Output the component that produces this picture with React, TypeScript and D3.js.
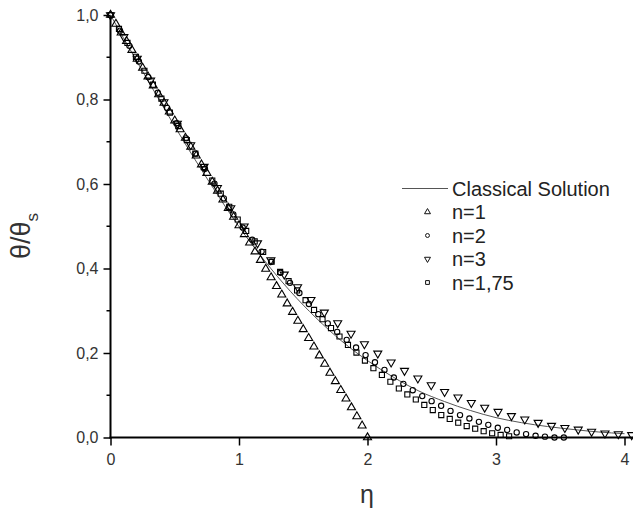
import React, { useEffect, useRef } from "react";
import * as d3 from "d3";

type Pt = [number, number];

// classical solution [eta, theta/theta_s]
const classical: Pt[] = [
  [0, 1.0], [0.2, 0.893], [0.4, 0.788], [0.6, 0.686], [0.8, 0.59], [1.0, 0.499],
  [1.2, 0.418], [1.4, 0.346], [1.6, 0.283], [1.8, 0.228], [2.0, 0.182], [2.2, 0.143],
  [2.4, 0.11], [2.6, 0.085], [2.8, 0.064], [3.0, 0.047], [3.2, 0.035], [3.4, 0.026],
  [3.6, 0.019], [3.8, 0.013], [4.0, 0.009],
];

const n1: Pt[] = [
  [0, 1.0], [0.042, 0.979], [0.083, 0.958], [0.125, 0.938], [0.167, 0.917], [0.208, 0.896],
  [0.25, 0.875], [0.292, 0.854], [0.333, 0.833], [0.375, 0.812], [0.417, 0.792], [0.458, 0.771],
  [0.5, 0.75], [0.542, 0.729], [0.583, 0.709], [0.625, 0.688], [0.667, 0.667], [0.708, 0.646],
  [0.75, 0.626], [0.792, 0.605], [0.833, 0.584], [0.875, 0.563], [0.917, 0.543], [0.958, 0.522],
  [1.0, 0.502], [1.042, 0.481], [1.083, 0.461], [1.125, 0.44], [1.167, 0.42], [1.208, 0.399],
  [1.25, 0.379], [1.292, 0.358], [1.333, 0.338], [1.375, 0.317], [1.417, 0.297], [1.458, 0.276],
  [1.5, 0.256], [1.542, 0.235], [1.583, 0.215], [1.625, 0.194], [1.667, 0.174], [1.708, 0.153],
  [1.75, 0.133], [1.792, 0.112], [1.833, 0.092], [1.875, 0.071], [1.917, 0.05], [1.958, 0.028],
  [2.0, 0.0],
];

const n2: Pt[] = [
  [0, 1.0], [0.074, 0.963], [0.147, 0.927], [0.221, 0.89], [0.294, 0.853], [0.368, 0.816],
  [0.441, 0.78], [0.515, 0.744], [0.588, 0.708], [0.662, 0.672], [0.735, 0.636], [0.809, 0.601],
  [0.882, 0.566], [0.956, 0.528], [1.029, 0.497], [1.103, 0.468], [1.176, 0.44], [1.25, 0.416],
  [1.323, 0.39], [1.397, 0.366], [1.47, 0.342], [1.544, 0.316], [1.617, 0.292], [1.691, 0.27],
  [1.764, 0.25], [1.838, 0.231], [1.911, 0.213], [1.985, 0.195], [2.058, 0.178], [2.132, 0.16],
  [2.205, 0.142], [2.279, 0.127], [2.352, 0.112], [2.426, 0.098], [2.499, 0.086], [2.573, 0.075],
  [2.646, 0.063], [2.72, 0.053], [2.793, 0.045], [2.867, 0.037], [2.94, 0.03], [3.014, 0.023],
  [3.087, 0.018], [3.161, 0.012], [3.234, 0.008], [3.308, 0.004], [3.381, 0.002], [3.455, 0.0],
  [3.528, 0.0],
];

const n3: Pt[] = [
  [0, 1.0], [0.104, 0.948], [0.208, 0.897], [0.312, 0.845], [0.416, 0.794], [0.52, 0.743],
  [0.624, 0.692], [0.728, 0.641], [0.832, 0.591], [0.936, 0.543], [1.04, 0.5], [1.144, 0.46],
  [1.248, 0.42], [1.352, 0.386], [1.456, 0.356], [1.56, 0.326], [1.664, 0.296], [1.768, 0.271],
  [1.872, 0.246], [1.976, 0.221], [2.08, 0.199], [2.184, 0.178], [2.288, 0.158], [2.392, 0.14],
  [2.496, 0.124], [2.6, 0.108], [2.704, 0.095], [2.808, 0.082], [2.912, 0.071], [3.016, 0.061],
  [3.12, 0.051], [3.224, 0.043], [3.328, 0.035], [3.432, 0.028], [3.536, 0.023], [3.64, 0.019],
  [3.744, 0.014], [3.848, 0.01], [3.952, 0.008], [4.056, 0.006],
];

const n175: Pt[] = [
  [0, 1.0], [0.066, 0.967], [0.132, 0.934], [0.198, 0.901], [0.264, 0.868], [0.33, 0.835],
  [0.396, 0.802], [0.462, 0.769], [0.528, 0.737], [0.594, 0.704], [0.66, 0.672], [0.726, 0.64],
  [0.792, 0.608], [0.858, 0.577], [0.924, 0.546], [0.99, 0.516], [1.056, 0.489], [1.122, 0.464],
  [1.188, 0.439], [1.254, 0.416], [1.32, 0.392], [1.386, 0.37], [1.452, 0.348], [1.518, 0.325],
  [1.584, 0.302], [1.65, 0.28], [1.716, 0.259], [1.782, 0.239], [1.848, 0.219], [1.914, 0.201],
  [1.98, 0.182], [2.046, 0.164], [2.112, 0.148], [2.178, 0.132], [2.244, 0.116], [2.31, 0.102],
  [2.376, 0.09], [2.442, 0.077], [2.508, 0.065], [2.574, 0.053], [2.64, 0.044], [2.706, 0.035],
  [2.772, 0.027], [2.838, 0.021], [2.904, 0.015], [2.97, 0.01], [3.036, 0.006], [3.102, 0.003],
];

const yTicks = [0, 0.2, 0.4, 0.6, 0.8, 1.0];
const yMinorTicks = [0.1, 0.3, 0.5, 0.7, 0.9];
const xTicks = [0, 1, 2, 3, 4];

const series = [
  { label: "n=1", data: n1, shape: "up" },
  { label: "n=2", data: n2, shape: "circle" },
  { label: "n=3", data: n3, shape: "down" },
  { label: "n=1,75", data: n175, shape: "square" },
];

const font = "Arial, 'Liberation Sans', sans-serif";

function symbolPath(shape: string, scale: number) {
  if (shape === "circle") return d3.symbol().type(d3.symbolCircle).size(22 * scale)()!;
  if (shape === "square") return d3.symbol().type(d3.symbolSquare).size(26 * scale)()!;
  return d3.symbol().type(d3.symbolTriangle).size(28 * scale)()!;
}

export default function App() {
  const ref = useRef<SVGSVGElement>(null);

  useEffect(() => {
    const svg = d3.select(ref.current);
    svg.selectAll("*").remove();

    const x = d3.scaleLinear().domain([0, 4]).range([110.5, 624.5]);
    const y = d3.scaleLinear().domain([0, 1]).range([437.5, 15]);

    // axes
    const yAxis = d3.axisLeft(y).tickValues(yTicks).tickSize(7).tickPadding(5).tickSizeOuter(0)
      .tickFormat((d) => d3.format(".1f")(d as number).replace(".", ","));
    const gy = svg.append("g").attr("transform", "translate(110.5,0)").call(yAxis);
    gy.select(".domain").remove();
    gy.selectAll("line").attr("stroke", "#000").attr("stroke-width", 1.5);
    gy.selectAll("text").attr("font-family", font).attr("font-size", 16).attr("fill", "#333");

    gy.selectAll(".minor").data(yMinorTicks).enter().append("line")
      .attr("x1", -4).attr("x2", 0)
      .attr("y1", (d) => y(d)).attr("y2", (d) => y(d))
      .attr("stroke", "#000").attr("stroke-width", 1.5);

    const xAxis = d3.axisBottom(x).tickValues(xTicks).tickSize(8).tickPadding(8).tickSizeOuter(0)
      .tickFormat(d3.format("d"));
    const gx = svg.append("g").attr("transform", "translate(0,437.5)").call(xAxis);
    gx.select(".domain").remove();
    gx.selectAll("line").attr("stroke", "#000").attr("stroke-width", 1.5);
    gx.selectAll("text").attr("font-family", font).attr("font-size", 16).attr("fill", "#333");

    svg.append("line").attr("x1", 110.5).attr("x2", 110.5).attr("y1", 15).attr("y2", 438.5)
      .attr("stroke", "#000").attr("stroke-width", 2);
    svg.append("line").attr("x1", 109.5).attr("x2", 633).attr("y1", 437.5).attr("y2", 437.5)
      .attr("stroke", "#000").attr("stroke-width", 2);

    // axis titles
    svg.append("text").attr("x", 367).attr("y", 503).attr("text-anchor", "middle")
      .attr("font-family", font).attr("font-size", 25).attr("fill", "#333").text("η");
    const yt = svg.append("text").attr("transform", "translate(30,236) rotate(-90)")
      .attr("text-anchor", "middle").attr("font-family", font).attr("font-size", 27).attr("fill", "#333");
    yt.append("tspan").text("θ/θ");
    yt.append("tspan").attr("dy", 8).attr("font-size", 17).text("s");

    // classical solution
    const line = d3.line<Pt>().x((d) => x(d[0])).y((d) => y(d[1])).curve(d3.curveMonotoneX);
    svg.append("path").datum(classical).attr("d", line).attr("fill", "none")
      .attr("stroke", "#555").attr("stroke-width", 1);

    // markers
    series.forEach((s) => {
      svg.append("g").selectAll("path").data(s.data).enter().append("path")
        .attr("d", symbolPath(s.shape, 1))
        .attr("transform", (d) => `translate(${x(d[0])},${y(d[1])})` + (s.shape === "down" ? " rotate(180)" : ""))
        .attr("fill", "none").attr("stroke", "#000").attr("stroke-width", 1.1);
    });

    // legend
    const lg = svg.append("g");
    lg.append("line").attr("x1", 402).attr("x2", 448).attr("y1", 188.5).attr("y2", 188.5)
      .attr("stroke", "#555").attr("stroke-width", 1);
    lg.append("text").attr("x", 452).attr("y", 195.5).attr("font-family", font).attr("font-size", 20)
      .attr("fill", "#222").text("Classical Solution");
    series.forEach((s, i) => {
      const cy = 212 + i * 23.5;
      lg.append("path").attr("d", symbolPath(s.shape, 0.55))
        .attr("transform", `translate(427.5,${cy})` + (s.shape === "down" ? " rotate(180)" : ""))
        .attr("fill", "none").attr("stroke", "#111").attr("stroke-width", 1);
      lg.append("text").attr("x", 452).attr("y", cy + 7).attr("font-family", font).attr("font-size", 20)
        .attr("fill", "#222").text(s.label);
    });
  }, []);

  return (
    <svg ref={ref} width={633} height={513}
      style={{ position: "absolute", left: 0, top: 0, background: "#fff" }} />
  );
}
